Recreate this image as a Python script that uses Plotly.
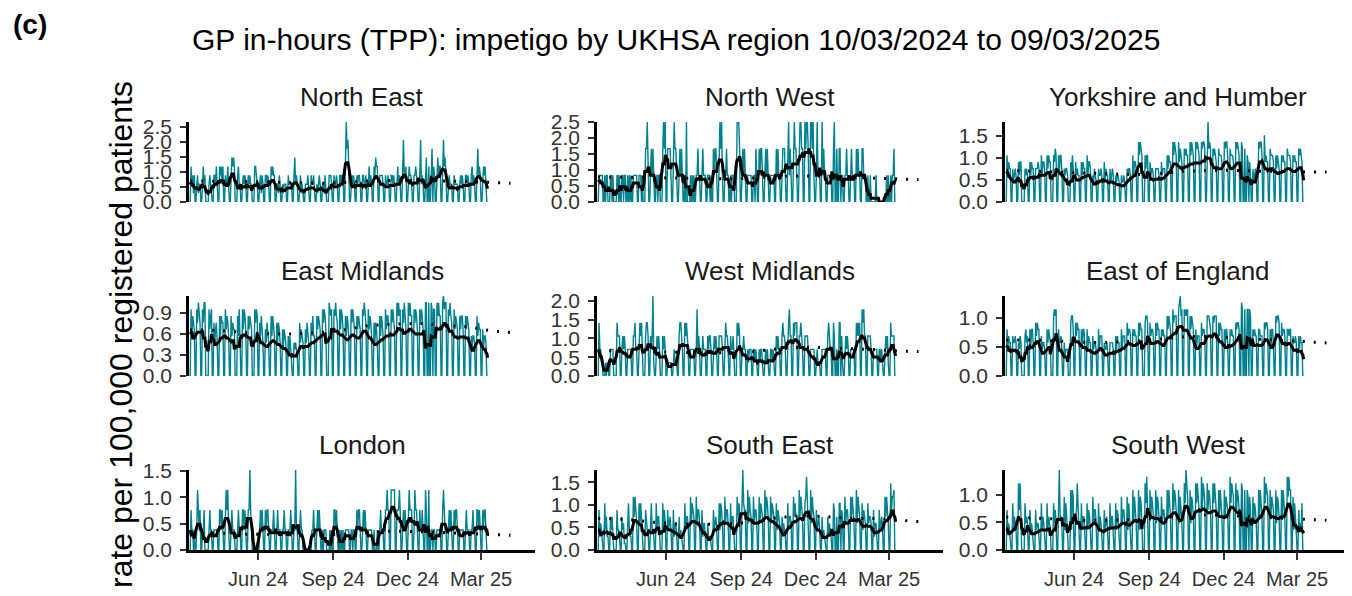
import pandas as pd
import plotly.graph_objects as go

START_DATE = "2024-03-10"
N_DAYS = 365

REGIONS = ["North East", "North West", "Yorkshire and Humber",
           "East Midlands", "West Midlands", "East of England",
           "London", "South East", "South West"]

# rate per 100,000 registered patients for a single consultation
RATE_PER_CASE = [0.295, 0.834, 0.1516, 0.095, 0.355, 0.115, 0.38, 0.148, 0.121]

# daily consultations, one token per week (Sun..Sat), base-36 digits
NE_COUNTS = """
0423130 0231220 0342300 0023210 0332420 0434240 0322420 0454540 0034220 0232320 0323220 0044320 0231320
0332320 0434330 0221320 0212220 0322220 0352320 0231210 0222310 0322310 0212320 0221310 0033320 0322320
0332330 0596740 0232320 0323320 0332230 0242320 0435440 0333320 0322320 0332320 0342320 0473340 0343320
0334320 0372320 0450040 0560430 0453440 0674530 0232220 0322220 0232320 0332320 0342320 0463430 0343420
0
"""
NW_COUNTS = """
0111110 0101100 0110100 0011010 0110110 0101010 0111110 0111010 0022310 0121210 0110110 0023230 0222210
0232210 0121210 0103000 0101010 0112110 0121110 0111010 0212210 0232310 0112110 0101110 0033320 0121210
0111110 0110210 0212210 0121210 0111110 0212110 0122210 0231210 0232210 0233220 0323320 0332310 0131110
0312110 0111110 0230020 0220110 0112110 0121110 0212110 0221110 0100100 0000100 0000000 0001010 0101120
0
"""
YH_COUNTS = """
0746550 0534540 0646600 0054540 0646550 0555650 0746650 0757660 0076870 0747750 0545540 0064750 0645440
0646550 0746650 0435430 0544540 0635440 0534540 0434430 0433430 0545540 0746650 0979870 0075770 0645540
0555540 0645550 0757660 0979870 0968760 0878770 0979870 0989870 0989980 09c8980 0878760 0877760 0989970
0877760 0989870 0980080 0760640 0534540 0989970 0a67660 0877760 0757650 0767660 0877760 0767660 0878760
0
"""
EM_COUNTS = """
0a69870 0a8b980 0a8bb00 00a79a0 0857850 0969880 0a79860 0968770 0096a60 0a7a970 0979870 00a8a90 0869750
0758650 0969760 0858750 0747650 0636430 0545430 0857650 0758650 0869660 0979870 0a8a970 00ba9a0 0a9b980
0a7a970 0969860 0a8a870 0979870 0a9b980 0a79860 0858750 0969860 0a79970 0a8a870 0b9b9a0 0a8b970 0b9b990
0a8a970 0a8a970 0bb00b0 0ba0aa0 0b9b990 0bcabb0 0a9b980 0a79870 0979970 0979870 0646650 0968770 0746650
0
"""
WM_COUNTS = """
0422110 0010110 0222200 0043330 0232320 0222220 0334220 0343420 0034430 0323610 0232320 0032320 0111110
0121110 0344320 0434320 0222220 0252320 0232220 0323320 0232320 0333320 0343320 0322320 0043430 0223220
0212220 0221210 0212210 0121210 0221210 0323220 0343320 0345330 0434440 0334320 0333320 0222220 0121110
0222220 0343220 0430020 0440310 0232320 0222220 0434340 0545330 0333320 0222220 0221210 0232310 0433330
0
"""
EOE_COUNTS = """
0746550 0655650 0546500 0067560 0747750 0868770 0645540 0757650 009a9a0 0755640 0534440 0089970 0868770
0747750 0746550 0645540 0746660 0544540 0555540 0646550 0746660 0867760 0767660 0868770 0089980 0867760
0868770 0767660 0979870 0a89990 0abc9a0 0a9a9a0 0979870 0746660 0867760 0999870 0989990 0868770 0747750
0767660 0878870 0ba00a0 0aa0a90 0767660 0776660 0878870 0747750 0989980 0867760 0776770 0655650 0646550
0
"""
LONDON_COUNTS = """
0211010 0132120 0112000 0012110 0111110 0221210 0232310 0121110 0012110 0221210 0224210 0000000 0121210
0212210 0111210 0121110 0112110 0111210 0114110 0121100 0000000 0011210 0121210 0101110 0001010 0221210
0101010 0111110 0110110 0212210 0121210 0111110 0100010 0121110 0223220 0333330 0222320 0121210 0232220
0132210 0211210 0320030 0110110 0111110 0232110 0121210 0212210 0111110 0121110 0112110 0221210 0212210
0
"""
SE_COUNTS = """
0624310 0735220 0535300 0063320 0534110 0373220 0858640 0747530 0064330 0373320 0735530 0073640 0634530
0624420 0523210 0735540 0847650 0846640 0624420 0422210 0634530 0737640 0846640 0735530 0085760 07c7660
0948650 0846640 0847650 0958750 0847650 0736540 0524320 0735540 0857550 0958650 078b760 0948650 0634530
0523210 0524320 0760050 0770650 0846640 0858640 0948650 0736540 0745540 0624420 0634530 0858640 0a68890
0
"""
SW_COUNTS = """
0634310 0735430 0a6a600 0074540 0634310 0634420 0735420 0735430 0074640 06c5540 0837530 0093980 056a430
0735530 0736530 0846640 0735420 0634530 0735530 0736530 0846640 0837530 0948640 0938740 00a7b70 0958750
0948750 0846640 0959750 0a69860 0948640 0a7c980 0948750 0a7a860 0b6a970 0a69860 0a7a860 0959750 0958760
0b7a980 0a69860 0a90090 0980860 0847640 0959750 0b7a980 0958760 0948750 0959750 0b8b990 0837530 0634370
0
"""
COUNTS = [NE_COUNTS, NW_COUNTS, YH_COUNTS, EM_COUNTS, WM_COUNTS,
          EOE_COUNTS, LONDON_COUNTS, SE_COUNTS, SW_COUNTS]

# baseline (dotted), roughly monthly
BASELINE_DATES = ["2024-03-10", "2024-04-15", "2024-05-15", "2024-06-15", "2024-07-15",
                  "2024-08-15", "2024-09-15", "2024-10-15", "2024-11-15", "2024-12-15",
                  "2025-01-15", "2025-02-15", "2025-03-15", "2025-04-06"]
NE_BASELINE = [0.70, 0.70, 0.68, 0.66, 0.65, 0.62, 0.65, 0.70, 0.72, 0.72, 0.70, 0.68, 0.65, 0.62]
NW_BASELINE = [0.78, 0.78, 0.76, 0.75, 0.74, 0.72, 0.75, 0.80, 0.82, 0.80, 0.78, 0.75, 0.72, 0.70]
YH_BASELINE = [0.72, 0.70, 0.68, 0.66, 0.64, 0.62, 0.65, 0.70, 0.72, 0.72, 0.70, 0.70, 0.68, 0.68]
EM_BASELINE = [0.66, 0.65, 0.62, 0.60, 0.60, 0.62, 0.66, 0.72, 0.74, 0.75, 0.72, 0.70, 0.64, 0.62]
WM_BASELINE = [0.68, 0.67, 0.65, 0.63, 0.62, 0.62, 0.65, 0.72, 0.77, 0.75, 0.72, 0.70, 0.66, 0.65]
EOE_BASELINE = [0.62, 0.62, 0.60, 0.58, 0.58, 0.60, 0.64, 0.68, 0.68, 0.66, 0.64, 0.62, 0.59, 0.57]
LONDON_BASELINE = [0.32, 0.32, 0.30, 0.30, 0.29, 0.28, 0.30, 0.34, 0.36, 0.35, 0.33, 0.32, 0.30, 0.28]
SE_BASELINE = [0.70, 0.68, 0.62, 0.58, 0.57, 0.58, 0.62, 0.72, 0.76, 0.74, 0.70, 0.70, 0.66, 0.63]
SW_BASELINE = [0.60, 0.58, 0.55, 0.54, 0.54, 0.55, 0.58, 0.62, 0.64, 0.62, 0.60, 0.58, 0.56, 0.54]
BASELINES = [NE_BASELINE, NW_BASELINE, YH_BASELINE, EM_BASELINE, WM_BASELINE,
             EOE_BASELINE, LONDON_BASELINE, SE_BASELINE, SW_BASELINE]

Y_TICKS = [[0, 0.5, 1, 1.5, 2, 2.5], [0, 0.5, 1, 1.5, 2, 2.5], [0, 0.5, 1, 1.5],
           [0, 0.3, 0.6, 0.9], [0, 0.5, 1, 1.5, 2], [0, 0.5, 1],
           [0, 0.5, 1, 1.5], [0, 0.5, 1, 1.5], [0, 0.5, 1]]
X_TICKS = ["2024-06-01", "2024-09-01", "2024-12-01", "2025-03-01"]
X_TICK_LABELS = ["Jun 24", "Sep 24", "Dec 24", "Mar 25"]
X_RANGE = ["2024-03-08 12:00", "2025-05-06"]

TITLE = "GP in-hours (TPP): impetigo by UKHSA region 10/03/2024 to 09/03/2025"
Y_TITLE = "rate per 100,000 registered patients"

TEAL = "#00818F"
FONT = "Liberation Sans, Arial, sans-serif"

# the page body adds an 8px offset, so the figure is laid out in screen pixels minus that
OFF = 8
W, H = 1352 - OFF, 596 - OFF
COL_X = [189, 597, 1005]
ROW_TOP = [122, 296, 470]
PANEL_W, PANEL_H = 346, 80


def decode(counts):
    chars = "".join(counts.split())
    assert len(chars) == N_DAYS, len(chars)
    return [int(c, 36) for c in chars]


def px(x):
    return (x - OFF) / W


def py(y):
    return (H - (y - OFF)) / H


fig = go.Figure()
dates = pd.date_range(START_DATE, periods=N_DAYS, freq="D")
annotations = []

for i, region in enumerate(REGIONS):
    row, col = divmod(i, 3)
    n = i + 1
    xa = "x" if n == 1 else f"x{n}"
    ya = "y" if n == 1 else f"y{n}"

    rate = pd.Series(decode(COUNTS[i]), index=dates) * RATE_PER_CASE[i]
    smooth = rate.rolling(7, center=True, min_periods=1).mean()

    fig.add_trace(go.Scatter(x=dates, y=rate, mode="lines", line=dict(color=TEAL, width=1.4),
                             xaxis=xa, yaxis=ya, showlegend=False, hoverinfo="skip"))
    fig.add_trace(go.Scatter(x=BASELINE_DATES, y=BASELINES[i], mode="lines",
                             line=dict(color="black", width=3, dash="2px,9px"),
                             xaxis=xa, yaxis=ya, showlegend=False, hoverinfo="skip"))
    fig.add_trace(go.Scatter(x=dates, y=smooth, mode="lines", line=dict(color="black", width=3),
                             xaxis=xa, yaxis=ya, showlegend=False))

    x0 = COL_X[col]
    top = ROW_TOP[row]
    bottom_row = row == 2
    fig.layout[f"xaxis{'' if n == 1 else n}"] = dict(
        domain=[px(x0), px(x0 + PANEL_W)], anchor=ya, range=X_RANGE, automargin=False,
        showgrid=False, zeroline=False,
        showline=bottom_row, linecolor="black", linewidth=2.6,
        ticks="outside" if bottom_row else "", ticklen=7, tickwidth=1.5, tickcolor="#333333",
        showticklabels=bottom_row, tickvals=X_TICKS, ticktext=X_TICK_LABELS,
        ticklabelstandoff=2,
        tickfont=dict(family=FONT, size=20, color="#333333"))
    fig.layout[f"yaxis{'' if n == 1 else n}"] = dict(
        domain=[py(top + PANEL_H), py(top)], anchor=xa, range=[0, rate.max()], automargin=False,
        showgrid=False, zeroline=False,
        showline=True, linecolor="black", linewidth=2.6,
        ticks="outside", ticklen=6, tickwidth=1.5, tickcolor="#333333",
        tickvals=Y_TICKS[i], ticktext=[f"{v:.1f}" for v in Y_TICKS[i]],
        ticklabelstandoff=4,
        tickfont=dict(family=FONT, size=21, color="#333333"))

    annotations.append(dict(text=region, x=px(x0 + PANEL_W / 2), y=py(top - 25),
                            xref="paper", yref="paper", xanchor="center", yanchor="middle",
                            showarrow=False, font=dict(family=FONT, size=26, color="#1a1a1a")))

annotations.append(dict(text=TITLE, x=px(676), y=py(39), xref="paper", yref="paper",
                        xanchor="center", yanchor="middle", showarrow=False,
                        font=dict(family=FONT, size=30, color="black")))
annotations.append(dict(text="<b>(c)</b>", x=px(30), y=py(25), xref="paper", yref="paper",
                        xanchor="center", yanchor="middle", showarrow=False,
                        font=dict(family=FONT, size=28, color="black")))
annotations.append(dict(text=Y_TITLE, x=px(121), y=py(335), xref="paper", yref="paper",
                        xanchor="center", yanchor="middle", textangle=-90, showarrow=False,
                        font=dict(family=FONT, size=32, color="black")))

fig.update_layout(width=W, height=H, autosize=False, template="none",
                  margin=dict(l=0, r=0, t=0, b=0, pad=0, autoexpand=False),
                  paper_bgcolor="white", plot_bgcolor="white",
                  annotations=annotations)

fig.write_html("out.html")
